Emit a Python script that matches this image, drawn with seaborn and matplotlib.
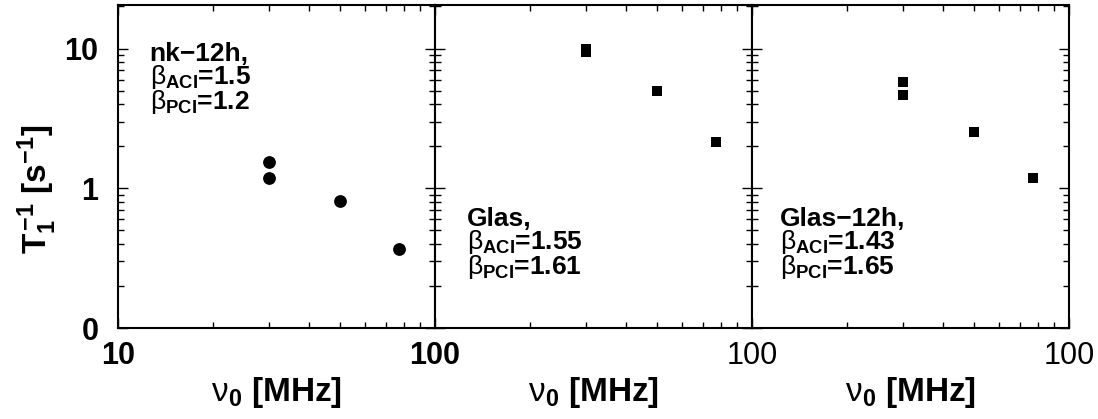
import numpy as np
import pandas as pd
import matplotlib
matplotlib.use("Agg")
import matplotlib.pyplot as plt
import matplotlib.ticker as mticker
import seaborn as sns

# ---- data ----
freq_nk = [30, 30, 50, 77]
rate_nk = [1.53, 1.18, 0.81, 0.367]
freq_glas = [30, 30, 50, 77]
rate_glas = [10.0, 9.5, 5.0, 2.14]
freq_glas12 = [30, 30, 50, 77]
rate_glas12 = [5.74, 4.62, 2.52, 1.19]

panel_names = ["nk\u221212h,", "Glas,", "Glas\u221212h,"]
beta_aci = ["1.5", "1.55", "1.43"]
beta_pci = ["1.2", "1.61", "1.65"]

ytick_values = [0.1, 1, 10]
ytick_labels = ["0", "1", "10"]
xtick_values = [10, 100]

sns.set_theme(style="ticks")
plt.rcParams["font.family"] = ["Liberation Sans", "DejaVu Sans"]
plt.rcParams["mathtext.fontset"] = "custom"
plt.rcParams["mathtext.rm"] = "Liberation Sans"
plt.rcParams["mathtext.it"] = "Liberation Sans"
plt.rcParams["mathtext.bf"] = "Liberation Sans:bold"
plt.rcParams["mathtext.default"] = "rm"
for k in ["text.color", "axes.labelcolor", "xtick.color", "ytick.color", "axes.edgecolor"]:
    plt.rcParams[k] = "black"

fig = plt.figure(figsize=(10.98, 4.19), dpi=100)
W, H = 1098.0, 419.0
left0, top_px, bot_px, pw = 118, 5, 328, 317

data = [
    (freq_nk, rate_nk, "o", 85),
    (freq_glas, rate_glas, "s", 58),
    (freq_glas12, rate_glas12, "s", 58),
]
text_pos = [(0.10, 0.885), (0.10, 0.375), (0.088, 0.375)]

axes = []
for i, (fx, fy, mk, sz) in enumerate(data):
    ax = fig.add_axes([(left0 + i * pw) / W, (H - bot_px) / H, pw / W, (bot_px - top_px) / H])
    axes.append(ax)
    df = pd.DataFrame({"f": fx, "r": fy})
    sns.scatterplot(data=df, x="f", y="r", marker=mk, s=sz, color="black",
                    edgecolor="black", linewidth=0, ax=ax, legend=False)
    ax.set_xscale("log")
    ax.set_yscale("log")
    ax.set_xlim(10, 100)
    ax.set_ylim(0.1, 20.5)
    for sp in ax.spines.values():
        sp.set_visible(True)
        sp.set_linewidth(1.5)
        sp.set_color("black")
    ax.xaxis.set_major_locator(mticker.FixedLocator(xtick_values))
    ax.xaxis.set_minor_locator(mticker.LogLocator(base=10, subs=np.arange(2, 10)))
    ax.yaxis.set_major_locator(mticker.FixedLocator(ytick_values))
    ax.yaxis.set_minor_locator(mticker.LogLocator(base=10, subs=np.arange(2, 10)))
    ax.xaxis.set_minor_formatter(mticker.NullFormatter())
    ax.yaxis.set_minor_formatter(mticker.NullFormatter())
    ax.tick_params(which="both", direction="in", top=True, right=True, color="black", width=1.0)
    ax.tick_params(which="major", length=7.5)
    ax.tick_params(which="minor", length=4)
    ax.tick_params(axis="x", which="major", pad=9, labelsize=22)
    ax.tick_params(axis="y", which="major", pad=14, labelsize=22)
    if i == 0:
        ax.xaxis.set_major_formatter(mticker.FixedFormatter(["10", "100"]))
        ax.yaxis.set_major_formatter(mticker.FixedFormatter(ytick_labels))
        for lab in ax.get_xticklabels() + ax.get_yticklabels():
            lab.set_fontweight("bold")
        ax.set_ylabel(r"T$_\mathbf{1}^{\,\mathbf{-1}}$ [s$^\mathbf{-1}$]", fontsize=24,
                      fontweight="bold")
        ax.yaxis.label.set_verticalalignment("center")
        ax.yaxis.set_label_coords(-0.255, 0.43)
    else:
        ax.xaxis.set_major_formatter(mticker.FixedFormatter(["", "100"]))
        ax.yaxis.set_major_formatter(mticker.NullFormatter())
        ax.set_ylabel("")
    ax.set_xlabel(r"$\nu_\mathbf{0}$ [MHz]", fontsize=24, fontweight="bold")
    ax.xaxis.set_label_coords(0.5, -0.2)
    ax.xaxis.label.set_verticalalignment("center")

    tx, ty = text_pos[i]
    block = "\n".join([panel_names[i],
                       r"$\beta_{\mathbf{ACI}}$=" + beta_aci[i],
                       r"$\beta_{\mathbf{PCI}}$=" + beta_pci[i]])
    ax.text(tx, ty, block, transform=ax.transAxes, fontsize=19, fontweight="bold",
            va="top", ha="left", linespacing=0.85)

fig.savefig("out.png", dpi=100, facecolor="white")
